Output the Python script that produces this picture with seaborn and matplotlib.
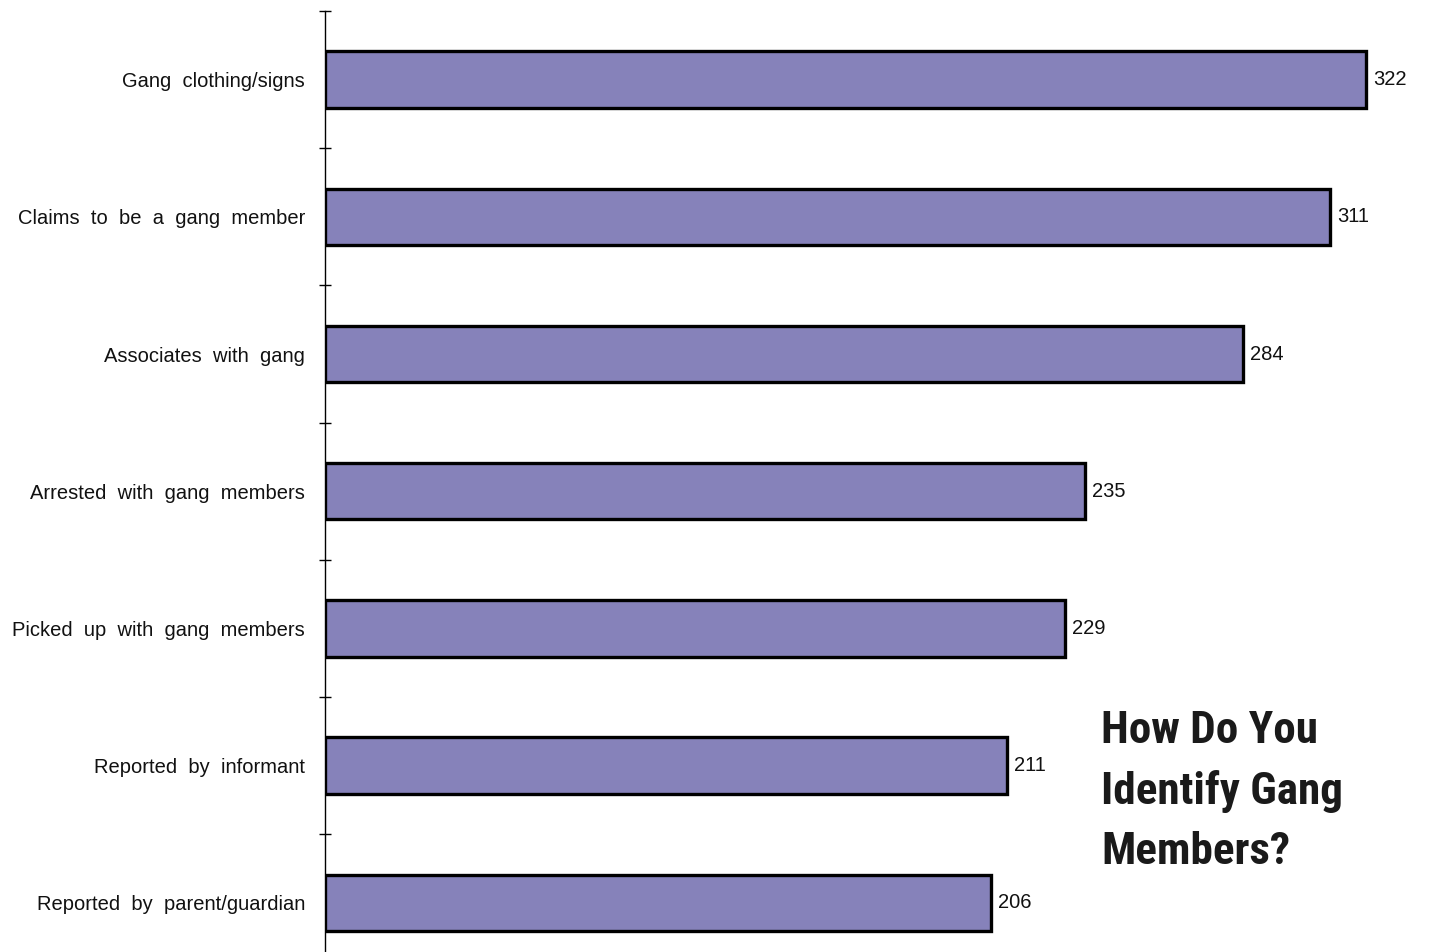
import matplotlib
matplotlib.use("Agg")
import matplotlib.pyplot as plt
import seaborn as sns
import pandas as pd
from matplotlib import font_manager

categories = [
    "Gang  clothing/signs",
    "Claims  to  be  a  gang  member",
    "Associates  with  gang",
    "Arrested  with  gang  members",
    "Picked  up  with  gang  members",
    "Reported  by  informant",
    "Reported  by  parent/guardian",
]
counts = [322, 311, 284, 235, 229, 211, 206]
title_lines = ["How Do You", "Identify Gang", "Members?"]

sns.set_theme(style="white")
plt.rcParams["font.family"] = ["Liberation Sans", "DejaVu Sans"]

df = pd.DataFrame({"category": categories, "count": counts})

W, H = 1429, 952
fig = plt.figure(figsize=(W / 100, H / 100), dpi=100)
left_px, top_px, row_px = 325, 11, 137.2
bottom_px = top_px + row_px * len(categories)
ax = fig.add_axes([left_px / W, (H - bottom_px) / H,
                   (W - left_px) / W, (bottom_px - top_px) / H])

sns.barplot(data=df, x="count", y="category", orient="h", color="#8682BA",
            saturation=1, width=0.41, edgecolor="black", linewidth=2.4, ax=ax)

scale = 3.233
ax.set_xlim(0, (W - left_px) / scale)
ax.set_ylim(len(categories) - 0.5, -0.5)

for s in ["top", "right", "bottom"]:
    ax.spines[s].set_visible(False)
ax.spines["left"].set_color("black")
ax.spines["left"].set_linewidth(1.0)

# boundary ticks between categories, labels at category centres
ax.set_yticks([i - 0.5 for i in range(len(categories) + 1)])
ax.set_yticklabels([])
ax.set_yticks(range(len(categories)), minor=True)
ax.set_yticklabels(categories, minor=True)
ax.tick_params(axis="y", which="major", direction="inout", length=9,
               width=1.0, color="black", left=True)
ax.tick_params(axis="y", which="minor", length=0, pad=14.4, labelsize=14.5,
               labelcolor="#111111")
ax.set_xticks([])
ax.set_xlabel("")
ax.set_ylabel("")

for c in ax.containers:
    ax.bar_label(c, labels=[str(v) for v in counts], padding=5, fontsize=14.5,
                 color="#111111")

# condensed bold face for the headline
names = {f.name for f in font_manager.fontManager.ttflist}
prefs = ["Roboto Condensed", "Liberation Sans Narrow", "Archivo Narrow",
         "PT Sans Narrow", "Open Sans Condensed", "IBM Plex Sans Condensed"]
title_font = next((p for p in prefs if p in names), "DejaVu Sans")
fig.text(1101 / W, 1 - 710 / H, "\n".join(title_lines), ha="left", va="top",
         fontsize=32.5, fontweight="bold", fontstretch="condensed",
         family=[title_font, "DejaVu Sans"], color="#1a1a1a", linespacing=1.53)

fig.savefig("out.png", dpi=100, facecolor="white")
